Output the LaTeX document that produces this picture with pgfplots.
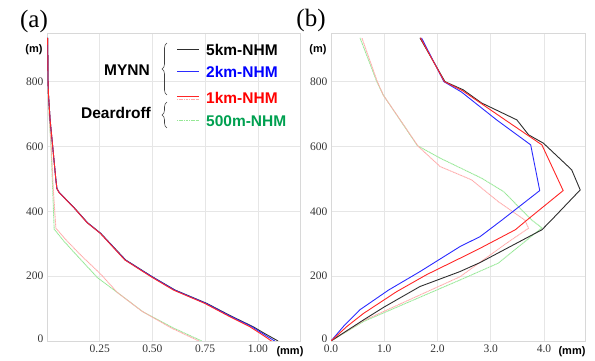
\documentclass[border=0pt]{standalone}
\usepackage{fontspec}
\setmainfont{Liberation Serif}
\setsansfont{Liberation Sans}
\newfontfamily\serifft{Liberation Serif}
\usepackage{pgfplots}
\pgfplotsset{compat=1.18}
\usetikzlibrary{decorations.pathreplacing}
\definecolor{cblack}{HTML}{2E2E2E}
\definecolor{cblue}{HTML}{2B2BFF}
\definecolor{cred}{HTML}{FF2626}
\definecolor{cpink}{HTML}{FFABAB}
\definecolor{cgreen}{HTML}{96E896}
\definecolor{tgreen}{HTML}{00A050}
\definecolor{gridgray}{HTML}{E6E6E6}
\definecolor{framegray}{HTML}{D8D8D8}
\pgfplotsset{
  panel/.style={
    scale only axis, anchor=south west, height=308pt,
    ymin=0, ymax=950, ytick={200,400,600,800},
    extra y ticks={0}, extra y tick style={grid=none, yticklabel style={yshift=2.5pt}},
    grid=major, grid style={draw=gridgray, line width=0.6pt},
    axis line style={draw=framegray, line width=0.7pt},
    major tick length=0pt,
    tick label style={font=\serifft\fontsize{11.5}{12}\selectfont, text=black!80},
    /pgf/number format/assume math mode=true,
  },
  solidl/.style={line width=0.9pt, no marks},
  dotl/.style={line width=0.9pt, no marks, dash pattern=on 1.2pt off 0.5pt},
}
\begin{document}
\begin{tikzpicture}
\useasboundingbox (0,0) rectangle (595pt,361pt);
% ---------- panel (a)
\begin{axis}[panel, at={(47pt,20pt)}, width=253pt,
  xmin=0, xmax=1.2, xtick={0.25,0.5,0.75,1.0},
  xticklabel style={/pgf/number format/.cd, fixed, fixed zerofill, precision=2}]
\addplot[dotl, cgreen] coordinates {(0.734,0)(0.6,40)(0.455,90)(0.333,150)(0.24,195)(0.15,258)(0.08,308)(0.034,345)(0.027,468)(0.019,600)(0.01,700)(0.005,800)(0.003,935)};
\addplot[dotl, cpink] coordinates {(0.72,0)(0.59,40)(0.45,92)(0.333,150)(0.255,206)(0.16,265)(0.09,312)(0.042,348)(0.03,468)(0.02,600)(0.01,700)(0.005,800)(0.003,935)};
\addplot[solidl, cblack] coordinates {(1.096,0)(1.03,24)(0.978,44)(0.87,78)(0.758,116)(0.608,157)(0.50,198)(0.373,250)(0.255,332)(0.192,365)(0.129,411)(0.058,458)(0.047,470)(0.042,498)(0.027,600)(0.015,680)(0.007,760)(0.005,800)(0.003,935)};
\addplot[solidl, cblue] coordinates {(1.08,0)(1.02,24)(0.972,44)(0.865,78)(0.754,116)(0.605,157)(0.498,198)(0.371,250)(0.254,332)(0.191,365)(0.128,411)(0.058,458)(0.047,470)(0.042,498)(0.027,600)(0.015,680)(0.007,760)(0.005,800)(0.003,935)};
\addplot[solidl, cred] coordinates {(1.065,0)(1.01,24)(0.962,44)(0.858,78)(0.748,116)(0.600,157)(0.494,198)(0.369,250)(0.253,332)(0.19,365)(0.128,411)(0.057,458)(0.047,470)(0.042,498)(0.027,600)(0.015,680)(0.007,760)(0.005,800)(0.003,935)};
\end{axis}
% ---------- panel (b)
\begin{axis}[panel, at={(331pt,20pt)}, width=254pt,
  xmin=0, xmax=4.77, xtick={0,1,2,3,4},
  xticklabel style={/pgf/number format/.cd, fixed, fixed zerofill, precision=1}]
\addplot[dotl, cgreen] coordinates {(0,0)(0.61,60)(1.67,135)(2.42,188)(3.14,240)(3.96,349)(3.77,373)(3.24,461)(2.83,502)(2.05,564)(1.62,603)(0.98,759)(0.86,800)(0.545,935)};
\addplot[dotl, cpink] coordinates {(0,0)(0.6,62)(1.67,142)(2.42,198)(3.30,302)(3.71,348)(3.64,373)(3.14,430)(2.64,497)(2.05,538)(1.64,600)(0.98,759)(0.87,800)(0.58,935)};
\addplot[solidl, cblack] coordinates {(0,0)(0.3,32)(0.61,65)(1.0,105)(1.67,168)(2.42,214)(2.8,242)(3.96,343)(4.14,373)(4.68,466)(4.52,528)(3.99,610)(3.71,636)(3.49,682)(2.83,734)(2.48,775)(2.14,800)(1.67,935)};
\addplot[solidl, cblue] coordinates {(0,0)(0.25,48)(0.54,96)(1.08,157)(1.67,214)(2.42,291)(2.80,322)(3.21,373)(3.92,464)(3.75,605)(3.11,682)(2.45,768)(2.12,800)(1.70,935)};
\addplot[solidl, cred] coordinates {(0,0)(0.3,45)(0.61,85)(1.23,152)(1.8,205)(2.42,255)(2.80,286)(3.46,343)(3.68,373)(4.36,464)(3.96,605)(3.27,682)(2.47,772)(2.13,800)(1.68,935)};
\end{axis}
% ---------- labels
\node[font=\serifft\fontsize{25}{25}\selectfont] at (34pt,340pt) {(a)};
\node[font=\serifft\fontsize{25}{25}\selectfont] at (311pt,341pt) {(b)};
\node[font=\sffamily\bfseries\fontsize{11}{12}\selectfont] at (34pt,311pt) {(m)};
\node[font=\sffamily\bfseries\fontsize{11}{12}\selectfont] at (318pt,311pt) {(m)};
\node[font=\sffamily\bfseries\fontsize{11}{12}\selectfont] at (290pt,9pt) {(mm)};
\node[font=\sffamily\bfseries\fontsize{11}{12}\selectfont] at (572pt,9pt) {(mm)};
% ---------- legend
\begin{scope}[every node/.style={font=\sffamily\bfseries\fontsize{15.5}{16}\selectfont, inner sep=0pt}]
\draw[cblack, line width=1pt] (177pt,311pt) -- (199pt,311pt);
\node[anchor=west, text=black] at (206pt,311pt) {5km-NHM};
\draw[cblue, line width=1pt] (177pt,289pt) -- (199pt,289pt);
\node[anchor=west, text=blue] at (206pt,289pt) {2km-NHM};
\draw[cred, line width=1pt] (177pt,264.5pt) -- (199pt,264.5pt);
\draw[cpink, line width=1pt, dash pattern=on 1.2pt off 0.5pt] (177pt,261.5pt) -- (199pt,261.5pt);
\node[anchor=west, text=red] at (206pt,263pt) {1km-NHM};
\draw[cgreen, line width=1pt, dash pattern=on 1.2pt off 0.5pt] (177pt,240pt) -- (199pt,240pt);
\node[anchor=west, text=tgreen] at (206pt,240pt) {500m-NHM};
\node at (127pt,291pt) {MYNN};
\node at (116pt,248pt) {Deardroff};
\draw[black!75, line width=0.6pt, decorate, decoration={brace, amplitude=5pt}] (167pt,266pt) -- (167pt,318pt);
\draw[black!75, line width=0.6pt, decorate, decoration={brace, amplitude=5pt}] (167pt,233pt) -- (167pt,259pt);
\end{scope}
\end{tikzpicture}
\end{document}
